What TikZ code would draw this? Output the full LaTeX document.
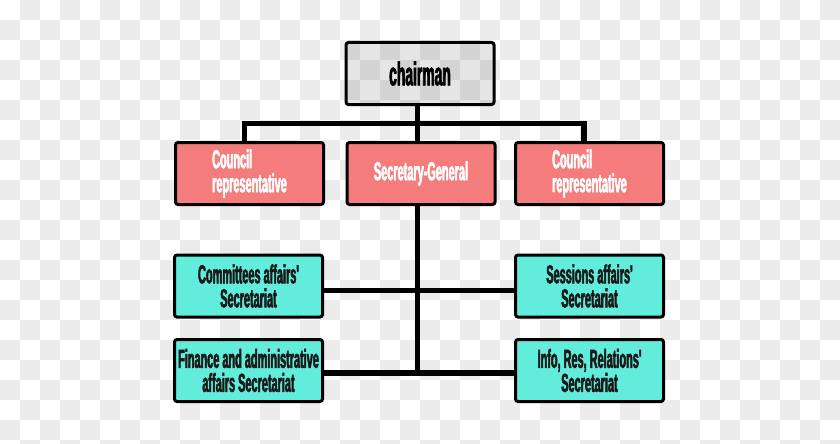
\documentclass[tikz,border=0pt]{standalone}
\usepackage{fontspec}
\setmainfont{Liberation Sans}
\newfontfamily\condfont{Liberation Sans}[FakeStretch=0.42, FakeBold=2]
\definecolor{boxred}{RGB}{244,124,124}
\definecolor{boxcyan}{RGB}{98,236,219}
\definecolor{checkgray}{RGB}{235,235,235}

\begin{document}
\begin{tikzpicture}[x=1pt, y=-1pt,
  orgbox/.style={draw=black, line width=3pt, rounded corners=2.5pt,
    minimum width=148pt, minimum height=62pt, inner sep=2pt,
    font=\condfont\bfseries\fontsize{26}{24}\selectfont},
  council/.style={orgbox, fill=boxred, text=white, align=left},
  office/.style={orgbox, fill=boxcyan, text=black!90, align=center},
  link/.style={line width=5.5pt}]
  \useasboundingbox (0,0) rectangle (840,444);
  \clip (0,0) rectangle (840,444);

  % checkered backdrop
  \fill[white] (0,0) rectangle (840,444);
  \foreach \i in {0,2,...,40} {
    \foreach \j in {1,3,...,21} {
      \fill[checkgray] ({\i*20}, {\j*20}) rectangle +(20,20);
    }
  }
  \foreach \i in {1,3,...,41} {
    \foreach \j in {0,2,...,22} {
      \fill[checkgray] ({\i*20}, {\j*20}) rectangle +(20,20);
    }
  }

  % top of the chart
  \node[orgbox, fill=black, fill opacity=0.1, text opacity=1,
    font=\condfont\bfseries\fontsize{33}{30}\selectfont] (chair) at (420,73.5) {chairman};

  % second row
  \node[council] (cl) at (249.5,173.5) {Council\\representative};
  \node[council, align=center] (sg) at (421,173.5) {Secretary-General};
  \node[council] (cr) at (589.5,173.5) {Council\\representative};

  % secretariats
  \node[office] (c1) at (248.5,286) {Committees affairs'\\Secretariat};
  \node[office] (c2) at (248.5,370.5) {Finance and administrative\\affairs Secretariat};
  \node[office] (s1) at (589.5,286) {Sessions affairs'\\Secretariat};
  \node[office] (s2) at (589.5,370.5) {Info, Res, Relations'\\Secretariat};

  % connectors
  \coordinate (bar) at (417.5,123.5);
  \coordinate (tk) at (417.5,373);
  \draw[link] (chair.south -| bar) -- (bar);
  \draw[link] ([xshift=-5pt]cl.north) |- (bar) -| ([xshift=-5.5pt]cr.north);
  \draw[link] (bar) -- (sg.north -| bar);
  \draw[link] (sg.south -| tk) -- (tk);
  \draw[link] ([yshift=-4.5pt]c1.east) -- ([yshift=-4.5pt]s1.west);
  \draw[link] ([yshift=-2.5pt]c2.east) -- ([yshift=-2.5pt]s2.west);
\end{tikzpicture}
\end{document}
